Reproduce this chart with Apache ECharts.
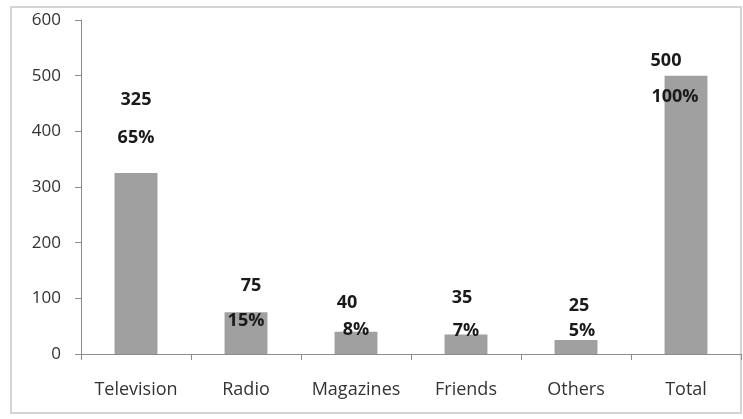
<!DOCTYPE html>
<html><head><meta charset="utf-8">
<script src="https://cdn.jsdelivr.net/npm/echarts@6/dist/echarts.min.js"></script>
<style>html,body{margin:0;padding:0;background:#fff}#c{width:743px;height:419px}</style>
</head><body><div id="c"></div>
<script>
const categories = ["Television", "Radio", "Magazines", "Friends", "Others", "Total"];
const counts = [325, 75, 40, 35, 25, 500];
const percents = ["65%", "15%", "8%", "7%", "5%", "100%"];
const yTicks = [0, 100, 200, 300, 400, 500, 600];

// label placement (style): offsets relative to bar top
const countOffsets = [[0,-73],[5,-26],[-9,-29],[-4,-37],[3,-34],[-20,-15]];
const pctOffsets = [[0,-35],[0,9],[0,-2],[0,-4],[6,-9],[-11,21]];

const chart = echarts.init(document.getElementById('c'));
const labelStyle = {show:true, position:'top', distance:0, verticalAlign:'middle',
  fontFamily:'Open Sans', fontWeight:'bold', fontSize:18, color:'#1a1a1a'};
chart.setOption({
  animation:false,
  graphic:[{type:'rect', shape:{x:11,y:7,width:730,height:406},
    style:{fill:'none', stroke:'#d4d4d4', lineWidth:2}}],
  grid:{left:81, right:2, top:20, bottom:65},
  xAxis:{type:'category', data:categories,
    axisLine:{lineStyle:{color:'#8c8c8c'}},
    axisTick:{show:true, length:6, lineStyle:{color:'#8c8c8c'}},
    axisLabel:{color:'#333', fontFamily:'Open Sans', fontSize:18, margin:27, interval:0}},
  yAxis:{type:'value', min:yTicks[0], max:yTicks[yTicks.length-1], interval:100,
    axisLine:{show:true, lineStyle:{color:'#8c8c8c'}},
    axisTick:{show:true, length:6, lineStyle:{color:'#8c8c8c'}},
    splitLine:{show:false},
    axisLabel:{color:'#333', fontFamily:'Open Sans', fontSize:17, margin:20}},
  series:[
    {type:'bar', barWidth:'39%', itemStyle:{color:'#a0a0a0'},
     data:counts.map((v,i)=>({value:v, label:Object.assign({}, labelStyle, {offset:countOffsets[i], formatter:String(v)})}))},
    {type:'bar', barWidth:'39%', barGap:'-100%', itemStyle:{color:'rgba(0,0,0,0)'}, z:5,
     data:counts.map((v,i)=>({value:v, label:Object.assign({}, labelStyle, {offset:pctOffsets[i], formatter:percents[i]})}))}
  ]
});
</script></body></html>
